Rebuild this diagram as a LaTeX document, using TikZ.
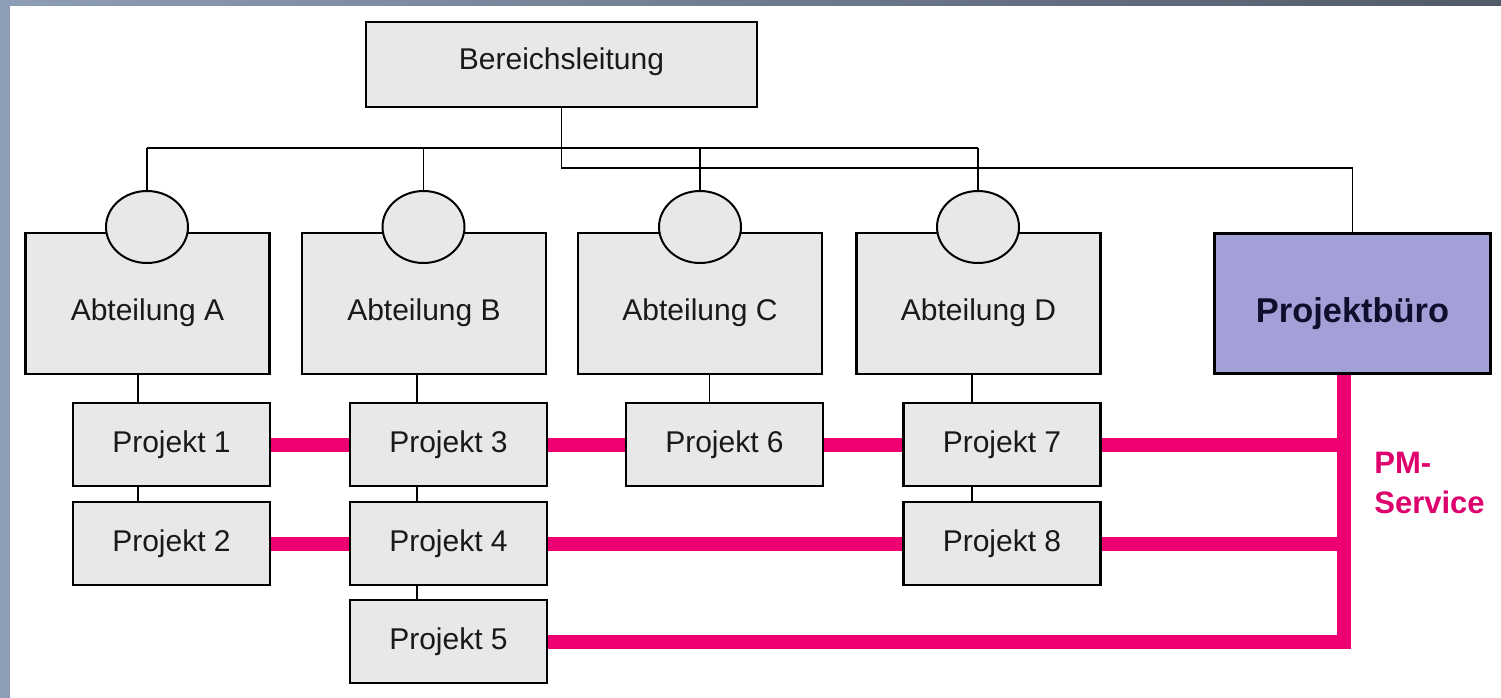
\documentclass[tikz,border=0pt]{standalone}
\usepackage{fontspec}
\setmainfont{Liberation Sans}
\usetikzlibrary{calc,shapes.geometric}
\definecolor{boxgray}{RGB}{232,232,232}
\definecolor{pbblue}{RGB}{162,160,214}
\definecolor{pmred}{RGB}{238,0,115}
\definecolor{pmtext}{RGB}{222,0,108}
\definecolor{pbtext}{RGB}{15,15,45}
\definecolor{frameL}{RGB}{142,158,182}
\definecolor{frameR}{RGB}{80,90,104}
\begin{document}
\begin{tikzpicture}[x=0.5pt,y=-0.5pt,
  box/.style={draw=black, line width=1.1pt, fill=boxgray, inner sep=0pt,
    text=black!90, font=\fontsize{15}{18}\selectfont},
  topbox/.style={box, minimum width=195.5pt, minimum height=42.5pt,
    text height=10.5pt, text depth=6pt},
  abt/.style={box, minimum width=122pt, minimum height=70.5pt,
    text height=20pt, text depth=3.5pt},
  proj/.style={box, minimum width=98.5pt, minimum height=41.5pt,
    text height=10.5pt, text depth=3pt},
  pbbox/.style={draw=black, line width=1.1pt, fill=pbblue, inner sep=0pt,
    minimum width=138pt, minimum height=70pt, text=pbtext,
    font=\fontsize{17.2}{20}\selectfont\bfseries, text height=22pt, text depth=3pt},
  head/.style={draw=black, line width=1pt, fill=boxgray, ellipse,
    minimum width=41pt, minimum height=36pt, inner sep=0pt},
  conn/.style={draw=black, line width=0.9pt},
  pm/.style={draw=pmred, line width=7pt},
  pmlabel/.style={text=pmtext, font=\fontsize{15.5}{18}\selectfont\bfseries, inner sep=0pt}]
\useasboundingbox (0,0) rectangle (1501,697);
% frame
\shade[left color=frameL, right color=frameR] (-5,-5) rectangle (1510,710);
\fill[white] (10,6) rectangle (1510,710);

% nodes
\node[topbox] (bl) at (561.5,64.5) {Bereichsleitung};

\node[abt] (abtA) at (147.5,303.5) {Abteilung A};
\node[abt] (abtB) at (424,303.5) {Abteilung B};
\node[abt] (abtC) at (700,303.5) {Abteilung C};
\node[abt] (abtD) at (978.5,303.5) {Abteilung D};
\node[pbbox] (pb) at (1352.5,303.5) {Projektbüro};

\node[head] (hA) at (147,227) {};
\node[head] (hB) at (423.5,227) {};
\node[head] (hC) at (700,227) {};
\node[head] (hD) at (978,227) {};

\node[proj] (p1) at (171.5,444.5) {Projekt 1};
\node[proj] (p2) at (171.5,543.5) {Projekt 2};
\node[proj] (p3) at (448.5,444.5) {Projekt 3};
\node[proj] (p4) at (448.5,543.5) {Projekt 4};
\node[proj] (p5) at (448.5,641.5) {Projekt 5};
\node[proj] (p6) at (724.5,444.5) {Projekt 6};
\node[proj] (p7) at (1002,444.5) {Projekt 7};
\node[proj] (p8) at (1002,543.5) {Projekt 8};

% coordinates for the buses
\coordinate (busA) at (hA.north |- 0,148);
\coordinate (busD) at (hD.north |- 0,148);
\coordinate (blbus) at (bl.south |- 0,168);

% black connectors
\draw[conn] (busA) -- (busD);
\draw[conn] (busA) -- (hA.north);
\draw[conn] (hB.north |- busA) -- (hB.north);
\draw[conn] (hC.north |- busA) -- (hC.north);
\draw[conn] (busD) -- (hD.north);
\draw[conn] (bl.south) -- (blbus) -| (pb.north);

% project connectors
\coordinate (c1) at ($(p1.north west)!0.33!(p1.north east)$);
\coordinate (c3) at ($(p3.north west)!0.34!(p3.north east)$);
\coordinate (c6) at ($(p6.north west)!0.425!(p6.north east)$);
\coordinate (c7) at ($(p7.north west)!0.35!(p7.north east)$);
\draw[conn] (c1) -- (c1 |- abtA.south);
\draw[conn] (c1 |- p1.south) -- (c1 |- p2.north);
\draw[conn] (c3) -- (c3 |- abtB.south);
\draw[conn] (c3 |- p3.south) -- (c3 |- p4.north);
\draw[conn] (c3 |- p4.south) -- (c3 |- p5.north);
\draw[conn] (c6) -- (c6 |- abtC.south);
\draw[conn] (c7) -- (c7 |- abtD.south);
\draw[conn] (c7 |- p7.south) -- (c7 |- p8.north);

% PM-Service lines
\coordinate (vx) at (1344,0);
\draw[pm] (p1.east) -- (p3.west);
\draw[pm] (p3.east) -- (p6.west);
\draw[pm] (p6.east) -- (p7.west);
\draw[pm] (p7.east) -- (p7.east -| vx);
\draw[pm] (p2.east) -- (p4.west);
\draw[pm] (p4.east) -- (p8.west);
\draw[pm] (p8.east) -- (p8.east -| vx);
\draw[pm, line join=miter] (pb.south -| vx) |- (p5.east);

\node[pmlabel, anchor=base west] (pmA) at (1374,473) {PM-};
\node[pmlabel, anchor=base west] (pmB) at (1374,513) {Service};
\end{tikzpicture}
\end{document}
